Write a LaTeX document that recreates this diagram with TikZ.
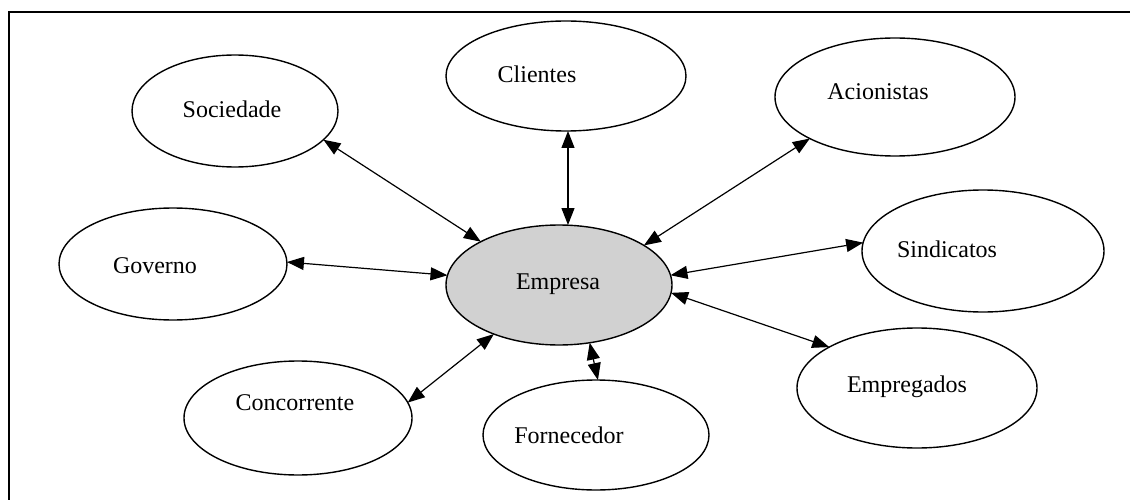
\documentclass[tikz,border=0pt]{standalone}
\usepackage{fontspec}
\setmainfont{Liberation Serif}
\usetikzlibrary{shapes.geometric,arrows.meta}
\begin{document}
\begin{tikzpicture}[x=1pt,y=-1pt,
  oval/.style={ellipse,draw=black,line width=1.4pt,inner sep=0pt,outer sep=0pt},
  lbl/.style={anchor=base,inner sep=0pt,font=\fontsize{24}{26}\selectfont},
  con/.style={line width=1.2pt,{Triangle[length=17pt,width=13pt]}-{Triangle[length=17pt,width=13pt]}}]
\fill[white] (0,0) rectangle (1130,500);
\useasboundingbox (0,0) rectangle (1130,500);
\coordinate (fa) at (1130,12);
\coordinate (fc) at (9,12);
\coordinate (fb) at (9,500);
\draw[line width=1.8pt] (fa) -- (fc) -- (fb);
% ellipses
\node[oval,minimum width=206pt,minimum height=112pt] (soc) at (235,111) {};
\node[oval,minimum width=240pt,minimum height=110pt] (cli) at (566,76) {};
\node[oval,minimum width=240pt,minimum height=118pt] (aci) at (895,97) {};
\node[oval,minimum width=228pt,minimum height=112pt] (gov) at (173,264) {};
\node[oval,fill=black!18,minimum width=226pt,minimum height=120pt] (emp) at (559,285) {};
\node[oval,minimum width=242pt,minimum height=122pt] (sin) at (983,251) {};
\node[oval,minimum width=228pt,minimum height=114pt] (con) at (298,418) {};
\node[oval,minimum width=226pt,minimum height=110pt] (for) at (596,435) {};
\node[oval,minimum width=240pt,minimum height=120pt] (epg) at (917,388) {};
% labels
\node[lbl] (tsoc) at (232,118) {Sociedade};
\node[lbl] (tcli) at (537,83) {Clientes};
\node[lbl] (taci) at (878,100) {Acionistas};
\node[lbl] (tgov) at (155,273) {Governo};
\node[lbl] (temp) at (558,289) {Empresa};
\node[lbl] (tsin) at (947,257) {Sindicatos};
\node[lbl] (tcon) at (295,410) {Concorrente};
\node[lbl] (tfor) at (569,443) {Fornecedor};
\node[lbl] (tepg) at (907,392) {Empregados};
% connectors
\draw[con] (soc.-18) -- (emp.151);
\draw[con] (cli.south -| 568,0) -- (emp.north -| 568,0);
\draw[con] (aci.206) -- (emp.25);
\draw[con] (gov.1) -- (emp.175);
\draw[con] (sin.176) -- (emp.5);
\draw[con] (epg.155) -- (emp.-4);
\draw[con] (con.8) -- (emp.217);
\draw[con] (emp.-62) -- (for.88);
\end{tikzpicture}
\end{document}
